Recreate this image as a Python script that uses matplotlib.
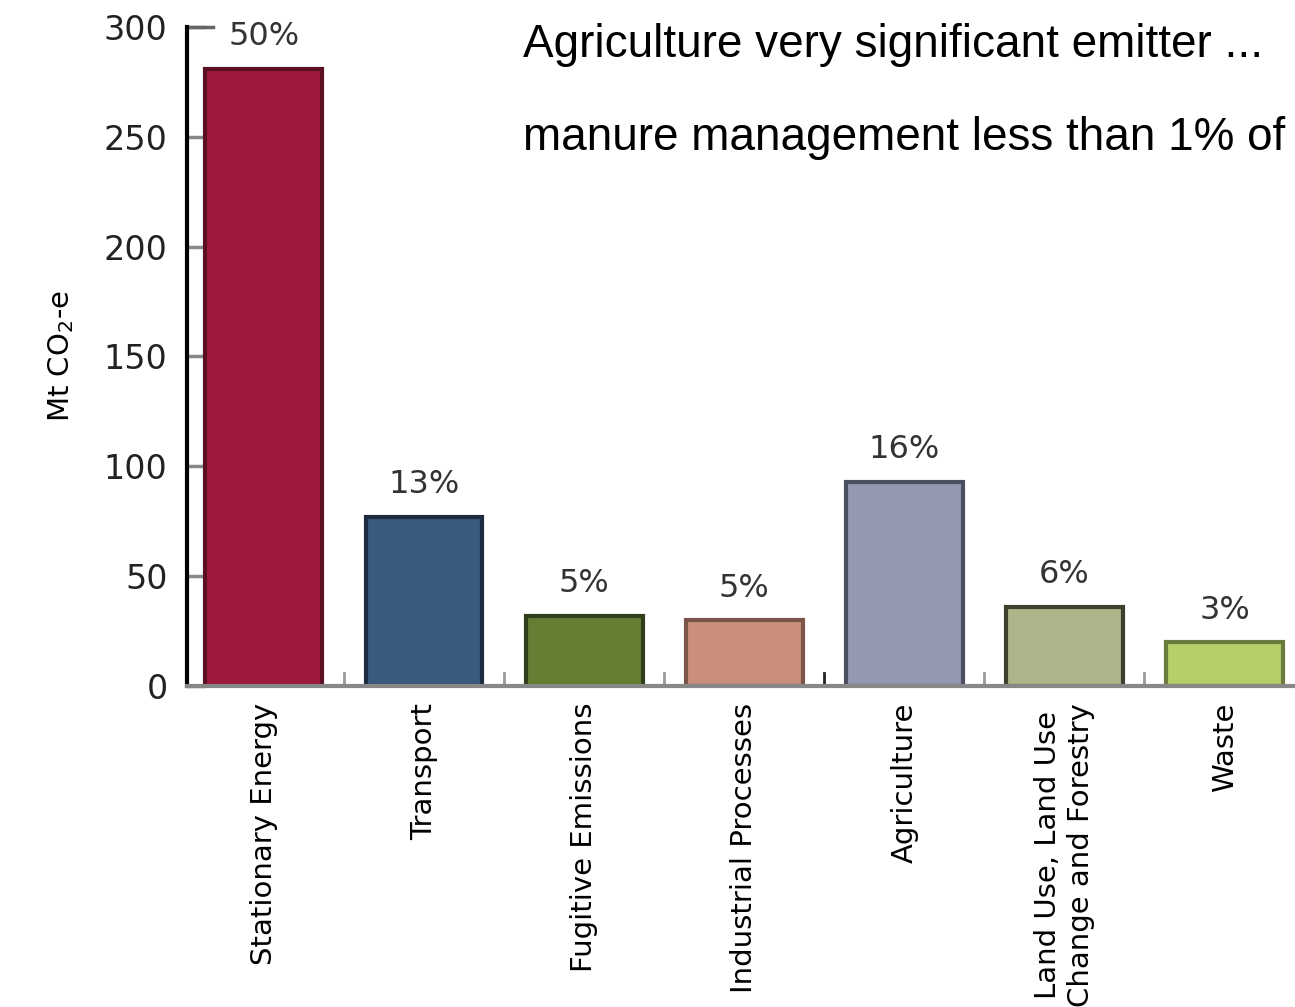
import matplotlib
matplotlib.use("Agg")
import matplotlib.pyplot as plt

categories = ["Stationary Energy", "Transport", "Fugitive Emissions", "Industrial Processes",
              "Agriculture", "Land Use, Land Use\nChange and Forestry", "Waste"]
values = [281, 77, 32, 30, 93, 36, 20]
shares = ["50%", "13%", "5%", "5%", "16%", "6%", "3%"]
bar_colors = ["#9E1A3C", "#3B5A80", "#647F34", "#C98F7C", "#9299B0", "#AEB58A", "#B5D06A"]
edge_colors = ["#5A0F22", "#1C2B40", "#2F3D1A", "#7A5548", "#4A4E60", "#3D3F2F", "#6B7A3D"]
yticks = [0, 50, 100, 150, 200, 250, 300]
title_lines = ["Agriculture very significant emitter ...",
               "manure management less than 1% of"]

fig = plt.figure(figsize=(12.95, 10.07), dpi=100)
ax = fig.add_axes([0.1444, 0.3188, 0.8556, 0.6544])

x = list(range(len(categories)))
ax.bar(x, values, width=0.73, color=bar_colors, edgecolor=edge_colors, linewidth=3, zorder=2)

for xi, v, s in zip(x, values, shares):
    ax.annotate(s, (xi, v), xytext=(0, 23), textcoords="offset points",
                ha="center", va="center", fontsize=23, color="#333333",
                family="DejaVu Sans")

ax.set_xlim(-0.48, 6.44)
ax.set_ylim(0, 300)
ax.set_yticks(yticks)
ax.set_yticklabels([str(t) for t in yticks], fontsize=24, color="#222222")
ax.tick_params(axis="y", direction="in", length=13, width=2.5, color="#888888", pad=14)

ax.set_xticks(x)
ax.set_xticklabels(categories, rotation=90, fontsize=21, family="DejaVu Sans",
                   va="top", ha="center", multialignment="center")
ax.tick_params(axis="x", length=0, pad=12)

# separator ticks between categories
for m in [i + 0.5 for i in range(len(categories) - 1)]:
    ax.plot([m, m], [0, 6], color="#999999" if m != 3.5 else "#222222", lw=2,
            zorder=1, clip_on=False)
# top cap of axis
ax.plot([-0.48, -0.32], [300, 300], color="#666666", lw=2.5, clip_on=False)

for side in ["top", "right"]:
    ax.spines[side].set_visible(False)
ax.spines["left"].set_linewidth(3)
ax.spines["left"].set_color("black")
ax.spines["bottom"].set_linewidth(3)
ax.spines["bottom"].set_color("#888888")

ax.set_ylabel("Mt CO$_2$-e", fontsize=21, family="DejaVu Sans")
ax.yaxis.set_label_coords(-0.1, 0.5)

fig.text(523 / 1295, 1 - 45 / 1007, title_lines[0], fontsize=33,
         family="Liberation Sans", va="center", ha="left", color="black")
fig.text(523 / 1295, 1 - 138 / 1007, title_lines[1], fontsize=33,
         family="Liberation Sans", va="center", ha="left", color="black")

fig.savefig("out.png", dpi=100)
